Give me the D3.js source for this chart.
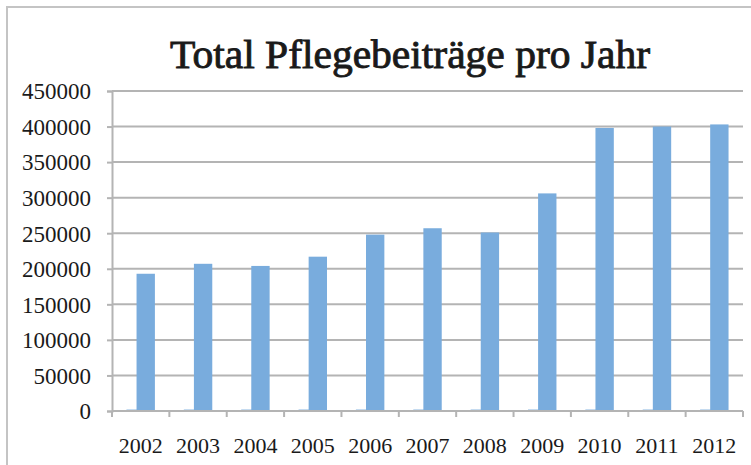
<!DOCTYPE html>
<html>
<head>
<meta charset="utf-8">
<script src="https://cdn.jsdelivr.net/npm/d3@7"></script>
<style>
  body { margin: 0; background: #fff; }
  svg text { font-family: "Liberation Serif", "DejaVu Serif", serif; fill: #1a1a1a; }
</style>
</head>
<body>
<div id="chart"></div>
<script>
// chart data
const years = ["2002", "2003", "2004", "2005", "2006", "2007", "2008", "2009", "2010", "2011", "2012"];
// the year column ended up plotted as its own (tiny) series
const yearSeries = [2002, 2003, 2004, 2005, 2006, 2007, 2008, 2009, 2010, 2011, 2012];
const totals = [193000, 207000, 204000, 217000, 248000, 257000, 251000, 306000, 398000, 400000, 403000];
const yTicks = [0, 50000, 100000, 150000, 200000, 250000, 300000, 350000, 400000, 450000];
const title = "Total Pflegebeiträge pro Jahr";

const width = 751, height = 465;
const margin = {top: 91, right: 8, bottom: 54, left: 112};
const gridColor = "#b4b4b4";
const barColor = "#79acdd";

const svg = d3.select("#chart").append("svg")
    .attr("width", width)
    .attr("height", height);

// outer frame, runs off the right and bottom edge
svg.append("rect")
    .attr("x", 7).attr("y", 7)
    .attr("width", width + 20).attr("height", height + 20)
    .attr("fill", "none")
    .attr("stroke", "#c4c4c4")
    .attr("stroke-width", 2);

svg.append("text")
    .attr("x", 410).attr("y", 68)
    .attr("text-anchor", "middle")
    .style("font-size", "41px")
    .style("stroke", "#1a1a1a")
    .style("stroke-width", "0.9px")
    .attr("textLength", 480)
    .attr("lengthAdjust", "spacingAndGlyphs")
    .text(title);

const x = d3.scaleBand()
    .domain(years)
    .range([margin.left, width - margin.right])
    .padding(0);

const y = d3.scaleLinear()
    .domain([0, 450000])
    .range([height - margin.bottom, margin.top]);

// gridlines
svg.append("g")
    .selectAll("line")
    .data(yTicks.filter(d => d > 0))
    .join("line")
    .attr("x1", margin.left).attr("x2", width - margin.right)
    .attr("y1", d => y(d)).attr("y2", d => y(d))
    .attr("stroke", gridColor)
    .attr("stroke-width", 2);

// y axis
const yAxis = svg.append("g")
    .attr("transform", `translate(${margin.left},0)`)
    .call(d3.axisLeft(y).tickValues(yTicks).tickSize(5).tickPadding(16).tickFormat(d3.format("d")));
yAxis.select(".domain").attr("stroke", gridColor).attr("stroke-width", 2);
yAxis.selectAll(".tick line").attr("stroke", gridColor).attr("stroke-width", 2);
yAxis.selectAll(".tick text")
    .attr("fill", "#1a1a1a")
    .style("font-size", "23px")
    .attr("dy", "0.34em");

// bars: two overlapping series per year
const barW = x.bandwidth() * 0.32;
const step = barW * 0.55;
const offset = (x.bandwidth() - (step + barW)) / 2;

const rows = years.map((yr, i) => ({year: yr, a: yearSeries[i], b: totals[i]}));

svg.append("g")
    .selectAll("rect")
    .data(rows)
    .join("rect")
    .attr("x", d => x(d.year) + offset)
    .attr("width", barW)
    .attr("y", d => y(d.a))
    .attr("height", d => y(0) - y(d.a))
    .attr("fill", barColor);

svg.append("g")
    .selectAll("rect")
    .data(rows)
    .join("rect")
    .attr("x", d => x(d.year) + offset + step)
    .attr("width", barW)
    .attr("y", d => y(d.b))
    .attr("height", d => y(0) - y(d.b))
    .attr("fill", barColor);

// x axis with ticks on the category boundaries
const xAxis = svg.append("g")
    .attr("transform", `translate(0,${height - margin.bottom})`);
xAxis.append("line")
    .attr("x1", margin.left).attr("x2", width - margin.right)
    .attr("stroke", gridColor).attr("stroke-width", 2);
xAxis.selectAll("line.tk")
    .data(years.concat(["end"]))
    .join("line")
    .attr("class", "tk")
    .attr("x1", (d, i) => margin.left + i * x.bandwidth())
    .attr("x2", (d, i) => margin.left + i * x.bandwidth())
    .attr("y1", 0).attr("y2", 6)
    .attr("stroke", gridColor).attr("stroke-width", 2);
xAxis.selectAll("text")
    .data(years)
    .join("text")
    .attr("x", d => x(d) + x.bandwidth() / 2)
    .attr("y", 42)
    .attr("text-anchor", "middle")
    .style("font-size", "22px")
    .text(d => d);
</script>
</body>
</html>
